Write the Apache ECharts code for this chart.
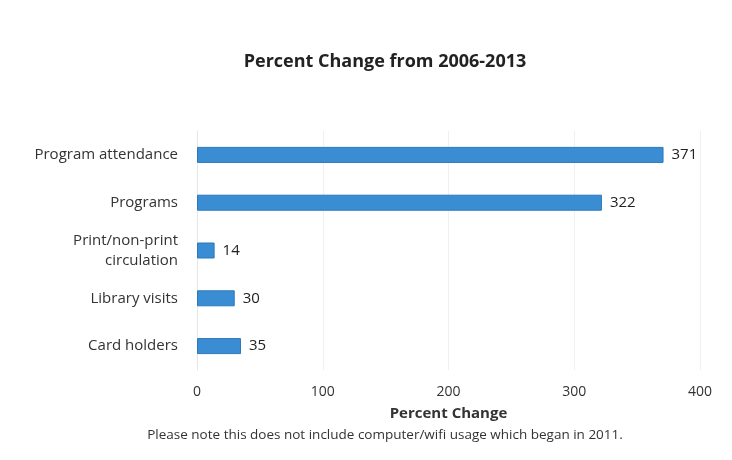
<!DOCTYPE html>
<html>
<head>
<meta charset="utf-8">
<script src="https://cdn.jsdelivr.net/npm/echarts@6/dist/echarts.min.js"></script>
<style>
html,body{margin:0;padding:0;background:#fff;}
#chart{width:732px;height:460px;}
</style>
</head>
<body>
<div id="chart"></div>
<script>
var categories = ['Card holders', 'Library visits', 'Print/non-print\ncirculation', 'Programs', 'Program attendance'];
var values = [35, 30, 14, 322, 371];
var titleText = 'Percent Change from 2006-2013';
var axisTitle = 'Percent Change';
var footnote = 'Please note this does not include computer/wifi usage which began in 2011.';

var chart = echarts.init(document.getElementById('chart'), null, {renderer: 'canvas'});
var fontFam = '"Open Sans", "Liberation Sans", sans-serif';
chart.setOption({
  backgroundColor: '#ffffff',
  animation: false,
  title: {
    text: titleText,
    left: 380, top: 48, textAlign: 'center',
    textStyle: {fontFamily: fontFam, fontSize: 18, fontWeight: 'bold', color: '#222'}
  },
  grid: {left: 197, right: 32, top: 131, bottom: 90, containLabel: false},
  xAxis: {
    type: 'value', min: 0, max: 400, interval: 100,
    name: axisTitle, nameLocation: 'middle', nameGap: 36,
    nameTextStyle: {fontFamily: fontFam, fontSize: 15, fontWeight: 'bold', color: '#333'},
    axisLine: {show: false}, axisTick: {show: false},
    axisLabel: {margin: 15, fontFamily: fontFam, fontSize: 14, color: '#333'},
    splitLine: {show: true, lineStyle: {color: '#f0f0f0', width: 1}}
  },
  yAxis: {
    type: 'category', data: categories,
    axisLine: {show: true, lineStyle: {color: '#e6e6e6'}},
    axisTick: {show: false},
    axisLabel: {margin: 19, fontFamily: fontFam, fontSize: 15, color: '#333', lineHeight: 20}
  },
  series: [{
    type: 'bar', data: values, barWidth: 16,
    itemStyle: {color: '#3a8dd3', borderColor: '#2b78bb', borderWidth: 1},
    label: {show: true, position: 'right', distance: 8, fontFamily: fontFam, fontSize: 15, color: '#222'}
  }],
  graphic: [{
    type: 'text', x: 385, y: 428,
    style: {text: footnote, fontFamily: fontFam, fontSize: 13.5, fill: '#333', align: 'center'}
  }]
});
</script>
</body>
</html>
